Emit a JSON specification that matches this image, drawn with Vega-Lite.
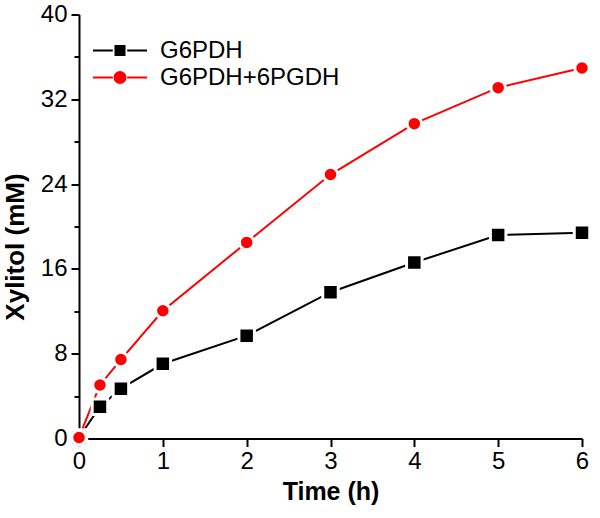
{
  "$schema": "https://vega.github.io/schema/vega-lite/v6.json",
  "width": 503,
  "height": 424,
  "autosize": {"type": "none"},
  "padding": {"left": 79, "top": 14.5, "right": 18, "bottom": 79.5},
  "background": "white",
  "config": {
    "view": {"stroke": null},
    "font": "Liberation Sans",
    "axis": {
      "domainColor": "black",
      "domainWidth": 2,
      "tickColor": "black",
      "tickWidth": 2,
      "labelColor": "black",
      "labelFont": "Liberation Sans",
      "labelFontSize": 24,
      "titleFont": "Liberation Sans",
      "titleFontSize": 25,
      "titleFontWeight": "bold",
      "titleColor": "black",
      "grid": false
    }
  },
  "data": {
    "values": [
      {"series": "G6PDH", "time": 0, "xylitol": 0.1},
      {"series": "G6PDH", "time": 0.25, "xylitol": 3.0},
      {"series": "G6PDH", "time": 0.5, "xylitol": 4.7},
      {"series": "G6PDH", "time": 1, "xylitol": 7.05},
      {"series": "G6PDH", "time": 2, "xylitol": 9.7},
      {"series": "G6PDH", "time": 3, "xylitol": 13.8},
      {"series": "G6PDH", "time": 4, "xylitol": 16.6},
      {"series": "G6PDH", "time": 5, "xylitol": 19.2},
      {"series": "G6PDH", "time": 6, "xylitol": 19.4},
      {"series": "G6PDH+6PGDH", "time": 0, "xylitol": 0.1},
      {"series": "G6PDH+6PGDH", "time": 0.25, "xylitol": 5.05},
      {"series": "G6PDH+6PGDH", "time": 0.5, "xylitol": 7.45},
      {"series": "G6PDH+6PGDH", "time": 1, "xylitol": 12.05},
      {"series": "G6PDH+6PGDH", "time": 2, "xylitol": 18.5},
      {"series": "G6PDH+6PGDH", "time": 3, "xylitol": 24.9},
      {"series": "G6PDH+6PGDH", "time": 4, "xylitol": 29.7},
      {"series": "G6PDH+6PGDH", "time": 5, "xylitol": 33.1},
      {"series": "G6PDH+6PGDH", "time": 6, "xylitol": 34.95}
    ]
  },
  "encoding": {
    "x": {
      "field": "time",
      "type": "quantitative",
      "scale": {"domain": [0, 6], "nice": false, "zero": false},
      "axis": {
        "title": "Time (h)",
        "values": [0, 1, 2, 3, 4, 5, 6],
        "format": "d",
        "tickSize": 8,
        "labelPadding": 3,
        "titlePadding": 6,
        "labelFlush": false
      }
    },
    "y": {
      "field": "xylitol",
      "type": "quantitative",
      "scale": {"domain": [0, 40], "nice": false},
      "axis": {
        "title": "Xylitol (mM)",
        "titleFontSize": 26,
        "values": [0, 4, 8, 12, 16, 20, 24, 28, 32, 36, 40],
        "labelExpr": "datum.value % 8 === 0 ? datum.label : ''",
        "tickSize": {"condition": {"test": "datum.value % 8 === 0", "value": 8}, "value": 5},
        "labelPadding": 4,
        "titlePadding": 12,
        "titleY": 232,
        "labelFlush": false
      }
    },
    "color": {
      "field": "series",
      "type": "nominal",
      "scale": {"domain": ["G6PDH", "G6PDH+6PGDH"], "range": ["black", "#ff0000"]},
      "legend": {
        "title": null,
        "orient": "none",
        "legendX": 29,
        "legendY": 24,
        "padding": 0,
        "symbolSize": 144,
        "labelFontSize": 24,
        "labelFont": "Liberation Sans",
        "labelColor": "black",
        "labelOffset": 28,
        "labelLimit": 400,
        "rowPadding": 3,
        "encode": {
          "symbols": {
            "update": {
              "shape": {"signal": "datum.value === 'G6PDH' ? 'M-4.5,0H-1.2M1.2,0H4.5M-0.75,-0.75H0.75V0.75H-0.75Z' : 'M-4.5,0H-1.2M1.2,0H4.5M-0.92,0A0.92,0.92 0 1,0 0.92,0A0.92,0.92 0 1,0 -0.92,0Z'"},
              "fill": {"signal": "datum.value === 'G6PDH' ? 'black' : '#ff0000'"},
              "stroke": {"signal": "datum.value === 'G6PDH' ? 'black' : '#ff0000'"},
              "strokeWidth": {"value": 2},
              "opacity": {"value": 1},
              "fillOpacity": {"value": 1}
            }
          }
        }
      }
    }
  },
  "layer": [
    {
      "mark": {"type": "line", "strokeWidth": 2}
    },
    {
      "transform": [{"filter": "datum.series === 'G6PDH'"}],
      "mark": {"type": "point", "shape": "square", "filled": true, "size": 240, "stroke": "white", "strokeWidth": 3, "opacity": 1, "strokeOpacity": 1}
    },
    {
      "transform": [{"filter": "datum.series === 'G6PDH+6PGDH'"}],
      "mark": {"type": "point", "shape": "circle", "filled": true, "size": 210, "stroke": "white", "strokeWidth": 3, "opacity": 1, "strokeOpacity": 1}
    }
  ]
}
